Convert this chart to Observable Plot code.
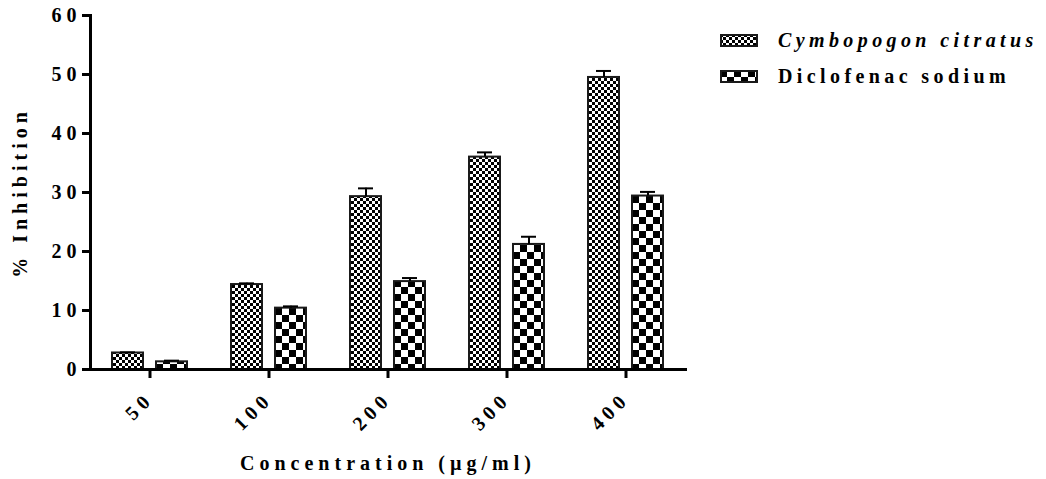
<!DOCTYPE html>
<html>
<head>
<meta charset="utf-8">
<script src="https://cdn.jsdelivr.net/npm/d3@7"></script>
<script src="https://cdn.jsdelivr.net/npm/@observablehq/plot@0.6"></script>
<style>
  html, body { margin: 0; padding: 0; background: #fff; }
  #wrap { position: relative; width: 1046px; height: 479px; }
  #legend { position: absolute; left: 720px; top: 28px; font-family: "Liberation Serif", serif; font-weight: bold; font-size: 20px; letter-spacing: 4.4px; color: #000; }
  .row { display: flex; align-items: center; height: 24px; margin-bottom: 12px; white-space: nowrap; }
  .row svg { margin-right: 20px; }
</style>
</head>
<body>
<div id="wrap">
  <div id="chart"></div>
  <div id="legend"></div>
</div>
<script>
const concentrations = ["50", "100", "200", "300", "400"];
const seriesNames = ["Cymbopogon citratus", "Diclofenac sodium"];
const cymbopogon = [2.8, 14.4, 29.3, 36.0, 49.5];
const cymbopogonErr = [0.1, 0.2, 1.4, 0.8, 1.1];
const diclofenac = [1.3, 10.4, 14.9, 21.2, 29.4];
const diclofenacErr = [0.2, 0.3, 0.6, 1.3, 0.7];
const yTicks = [0, 10, 20, 30, 40, 50, 60];

const patternIds = {"Cymbopogon citratus": "patFine", "Diclofenac sodium": "patCoarse"};

const data = [];
concentrations.forEach((c, i) => {
  data.push({conc: c, series: seriesNames[0], value: cymbopogon[i], err: cymbopogonErr[i]});
  data.push({conc: c, series: seriesNames[1], value: diclofenac[i], err: diclofenacErr[i]});
});

const chart = Plot.plot({
  width: 1046,
  height: 479,
  marginLeft: 88,
  marginRight: 359,
  marginTop: 15,
  marginBottom: 110,
  style: {fontFamily: "'Liberation Serif', serif", fontWeight: "bold", fontSize: "20px", letterSpacing: "5px", color: "#000", background: "#fff"},
  fx: {domain: concentrations, padding: 0, label: null},
  x: {domain: seriesNames, paddingInner: 0.3, paddingOuter: 0.5, axis: null},
  y: {domain: [0, 60]},
  marks: [
    Plot.barY(data, {fx: "conc", x: "series", y: "value", fill: d => "url(#" + patternIds[d.series] + ")", stroke: "#1a1a1a", strokeWidth: 2}),
    Plot.ruleX(data, {fx: "conc", x: "series", y1: "value", y2: d => d.value + d.err, stroke: "#000", strokeWidth: 2}),
    Plot.tickY(data, {fx: "conc", x: "series", y: d => d.value + d.err, stroke: "#000", strokeWidth: 2, insetLeft: 8, insetRight: 8}),
    Plot.axisY({ticks: yTicks, tickSize: 8, tickPadding: 1, strokeWidth: 3, fontSize: 20, label: "% Inhibition", labelAnchor: "center", labelArrow: "none", labelOffset: 78}),
    Plot.axisFx({anchor: "bottom", tickRotate: -45, tickSize: 9, tickPadding: 17, strokeWidth: 3, fontSize: 20, label: "Concentration (µg/ml)", labelAnchor: "center", labelArrow: "none", labelOffset: 100}),
    Plot.frame({anchor: "left", strokeWidth: 3, facet: "super"}),
    Plot.frame({anchor: "bottom", strokeWidth: 3, facet: "super"})
  ]
});
document.getElementById("chart").appendChild(chart);

// Pattern definitions
const defs = d3.select(chart).insert("defs", ":first-child");
const fine = defs.append("pattern").attr("id", "patFine").attr("patternUnits", "userSpaceOnUse").attr("width", 6).attr("height", 6);
fine.append("rect").attr("width", 6).attr("height", 6).attr("fill", "#fff");
fine.append("rect").attr("width", 3).attr("height", 3).attr("fill", "#000");
fine.append("rect").attr("x", 3).attr("y", 3).attr("width", 3).attr("height", 3).attr("fill", "#000");
const coarse = defs.append("pattern").attr("id", "patCoarse").attr("patternUnits", "userSpaceOnUse").attr("width", 14).attr("height", 14);
coarse.append("rect").attr("width", 14).attr("height", 14).attr("fill", "#fff");
coarse.append("rect").attr("width", 7).attr("height", 7).attr("fill", "#000");
coarse.append("rect").attr("x", 7).attr("y", 7).attr("width", 7).attr("height", 7).attr("fill", "#000");

// Legend
const legend = d3.select("#legend");
seriesNames.forEach(name => {
  const row = legend.append("div").attr("class", "row");
  const sw = row.append("svg").attr("width", 38).attr("height", 13);
  sw.append("rect").attr("x", 1).attr("y", 1).attr("width", 36).attr("height", 11)
    .attr("fill", "url(#" + patternIds[name] + ")").attr("stroke", "#1a1a1a").attr("stroke-width", 2);
  row.append("span").style("font-style", name === seriesNames[0] ? "italic" : "normal").text(name);
});
</script>
</body>
</html>
